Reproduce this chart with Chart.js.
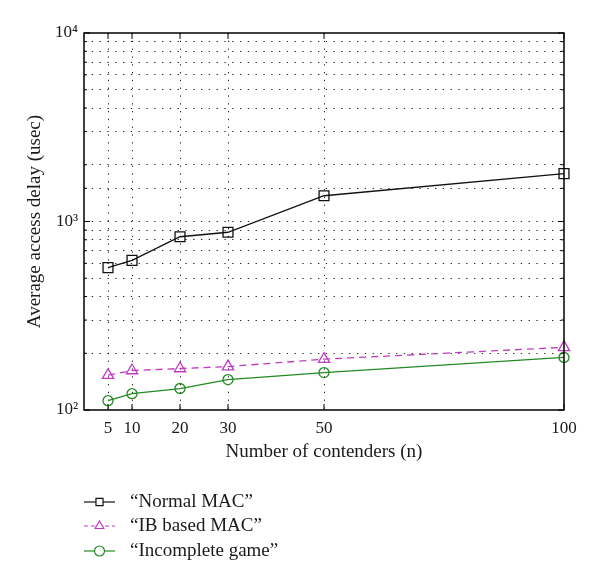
<!DOCTYPE html>
<html>
<head>
<meta charset="utf-8">
<script src="https://cdn.jsdelivr.net/npm/chart.js@4.4.0/dist/chart.umd.min.js"></script>
<style>
  html, body { margin: 0; padding: 0; background: #fff; }
  #wrap { width: 600px; height: 588px; }
</style>
</head>
<body>
<div id="wrap"><canvas id="c" width="600" height="588"></canvas></div>
<script>
var contenders = [5, 10, 20, 30, 50, 100];
var xTicks = [5, 10, 20, 30, 50, 100];
var normalMac = [569, 622, 830, 877, 1370, 1794];
var ibMac = [153, 162, 166, 170, 186, 215];
var incompleteGame = [112, 122, 130, 145, 158, 190];
var seriesNames = ['\u201CNormal MAC\u201D', '\u201CIB based MAC\u201D', '\u201CIncomplete game\u201D'];

var FONT = '"Liberation Serif", "DejaVu Serif", serif';
var SUP = { '2': '\u00B2', '3': '\u00B3', '4': '\u2074' };

function toPoints(ys) {
    return contenders.map(function (x, i) { return { x: x, y: ys[i] }; });
}

// box, inward tick marks and legend below the plot
var decorPlugin = {
    id: 'decor',
    afterDraw: function (chart) {
        var ctx = chart.ctx;
        var a = chart.chartArea;
        var xs = chart.scales.x, ys = chart.scales.y;
        ctx.save();
        ctx.strokeStyle = '#000';
        ctx.lineWidth = 1.5;
        ctx.strokeRect(a.left, a.top, a.right - a.left, a.bottom - a.top);
        ctx.lineWidth = 1;
        ctx.beginPath();
        xTicks.forEach(function (v) {
            var px = xs.getPixelForValue(v);
            ctx.moveTo(px, a.bottom); ctx.lineTo(px, a.bottom - 6);
            ctx.moveTo(px, a.top); ctx.lineTo(px, a.top + 6);
        });
        ys.ticks.forEach(function (t) {
            var py = ys.getPixelForValue(t.value);
            var major = [100, 1000, 10000].indexOf(t.value) >= 0;
            var len = major ? 6 : 3;
            ctx.moveTo(a.left, py); ctx.lineTo(a.left + len, py);
            ctx.moveTo(a.right, py); ctx.lineTo(a.right - len, py);
        });
        ctx.stroke();

        // legend
        var rows = [502, 526, 551];
        chart.data.datasets.forEach(function (ds, i) {
            var y = rows[i];
            ctx.strokeStyle = ds.borderColor;
            ctx.lineWidth = 1.2;
            ctx.setLineDash(ds.borderDash ? [4, 3] : []);
            ctx.beginPath();
            ctx.moveTo(84, y); ctx.lineTo(115, y);
            ctx.stroke();
            ctx.setLineDash([]);
            ctx.fillStyle = '#fff';
            Chart.helpers.drawPoint(ctx, {
                pointStyle: ds.pointStyle, radius: 5, borderWidth: 1.2
            }, 99.5, y);
            ctx.fillStyle = '#1a1a1a';
            ctx.font = '19px ' + FONT;
            ctx.textBaseline = 'middle';
            ctx.textAlign = 'left';
            ctx.fillText(seriesNames[i], 130, y);
        });
        ctx.restore();
    }
};

new Chart(document.getElementById('c'), {
    type: 'line',
    data: {
        datasets: [{
            data: toPoints(normalMac),
            borderColor: '#111',
            borderWidth: 1.3,
            clip: false,
            pointStyle: 'rect',
            pointRadius: 7,
            pointBorderWidth: 1.3,
            pointBackgroundColor: 'rgba(255,255,255,0)'
        }, {
            data: toPoints(ibMac),
            borderColor: '#c23bc2',
            borderWidth: 1.3,
            borderDash: [7, 5],
            clip: false,
            pointStyle: 'triangle',
            pointRadius: 6.5,
            pointBorderWidth: 1.3,
            pointBackgroundColor: 'rgba(255,255,255,0)'
        }, {
            data: toPoints(incompleteGame),
            borderColor: '#238a23',
            borderWidth: 1.3,
            clip: false,
            pointStyle: 'circle',
            pointRadius: 5,
            pointBorderWidth: 1.3,
            pointBackgroundColor: 'rgba(255,255,255,0)'
        }]
    },
    options: {
        responsive: false,
        animation: false,
        layout: { padding: { left: 0, top: 33, right: 36, bottom: 120 } },
        plugins: { legend: { display: false }, tooltip: { enabled: false } },
        scales: {
            x: {
                type: 'linear',
                min: 0,
                max: 100,
                afterBuildTicks: function (scale) {
                    scale.ticks = xTicks.map(function (v) { return { value: v }; });
                },
                afterFit: function (scale) { scale.height = 58; },
                border: { display: false, dash: [1.3, 6.5] },
                grid: {
                    color: function (c) { return c.tick && c.tick.value === 100 ? 'rgba(0,0,0,0)' : '#222'; },
                    lineWidth: 1,
                    drawTicks: false
                },
                ticks: {
                    color: '#1a1a1a',
                    font: { family: FONT, size: 17 },
                    padding: 8,
                    maxRotation: 0,
                    autoSkip: false
                },
                title: {
                    display: true,
                    text: 'Number of contenders (n)',
                    color: '#1a1a1a',
                    font: { family: FONT, size: 19 },
                    padding: { top: 0, bottom: 5 }
                }
            },
            y: {
                type: 'logarithmic',
                min: 100,
                max: 10000,
                afterFit: function (scale) { scale.width = 84; },
                border: { display: false, dash: [1.3, 6.5] },
                grid: {
                    color: function (c) {
                        var v = c.tick && c.tick.value;
                        return v === 100 || v === 10000 ? 'rgba(0,0,0,0)' : '#222';
                    },
                    lineWidth: 1,
                    drawTicks: false
                },
                ticks: {
                    color: '#1a1a1a',
                    font: { family: FONT, size: 17 },
                    padding: 6,
                    autoSkip: false,
                    callback: function (v) {
                        var e = Math.round(Math.log10(v));
                        if (Math.abs(Math.pow(10, e) - v) < 1e-6) return '10' + SUP[String(e)];
                        return '';
                    }
                },
                title: {
                    display: true,
                    text: 'Average access delay (usec)',
                    color: '#1a1a1a',
                    font: { family: FONT, size: 19 },
                    padding: { top: 24, bottom: 0 }
                }
            }
        }
    },
    plugins: [decorPlugin]
});
</script>
</body>
</html>
